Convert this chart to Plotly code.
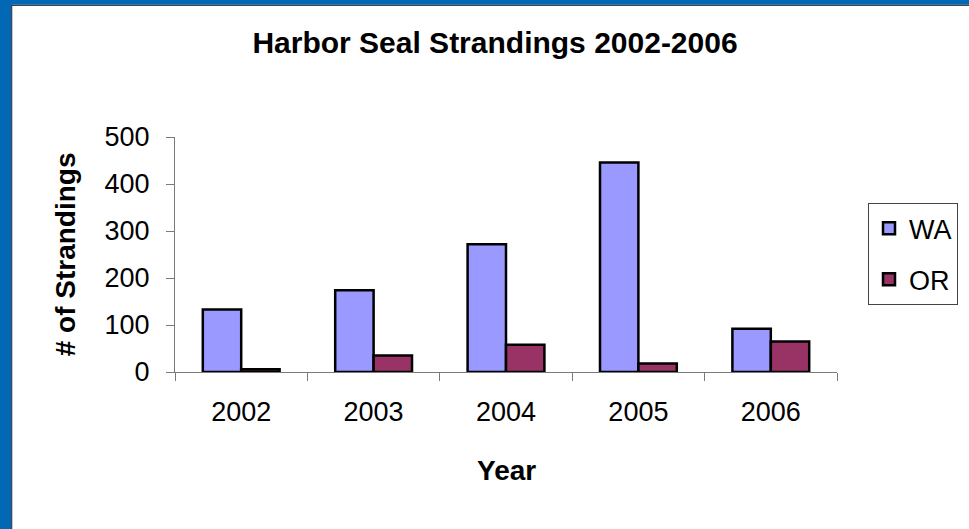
import plotly.graph_objects as go

years = ["2002", "2003", "2004", "2005", "2006"]
wa = [133, 174, 272, 446, 92]
or_vals = [6, 35, 58, 18, 65]

W, H = 969, 529
L, R, T = 175, 838, 137
B0 = 371.7  # pixel y of zero line
pw, ph = R - L, B0 - T

def px(x):
    return (x - L) / pw

def py(y):
    return (B0 - y) / ph

FONT = "Liberation Sans, Arial, sans-serif"

fig = go.Figure()
fig.add_trace(go.Bar(x=years, y=wa, name="WA", legendgroup="a",
                     marker=dict(color="#9999FF", line=dict(color="black", width=2.5))))
fig.add_trace(go.Bar(x=years, y=or_vals, name="OR", legendgroup="b",
                     marker=dict(color="#993366", line=dict(color="black", width=2.5))))

fig.update_layout(
    width=W, height=H,
    margin=dict(l=L, r=W - R, t=T, b=H - B0, pad=0),
    paper_bgcolor="white", plot_bgcolor="white",
    font=dict(family=FONT, size=27, color="black"),
    barmode="group", bargap=0.42, bargroupgap=0,
    title=dict(text="<b>Harbor Seal Strandings 2002-2006</b>",
               x=495 / W, xref="container", xanchor="center",
               y=1 - 42 / H, yref="container", yanchor="middle",
               font=dict(size=30, family=FONT, color="black")),
    showlegend=True,
    legend=dict(x=px(868), y=py(203), xanchor="left", yanchor="top",
                bordercolor="#444444", borderwidth=1, bgcolor="white",
                font=dict(size=27, family=FONT), tracegroupgap=13,
                traceorder="grouped", entrywidth=88, entrywidthmode="pixels"),
)
fig.update_xaxes(showline=True, linecolor="#7a7a7a", linewidth=1,
                 ticks="outside", tickson="boundaries", ticklen=8,
                 tickcolor="#7a7a7a", showgrid=False, zeroline=False,
                 tickfont=dict(size=27), ticklabelstandoff=16)
fig.update_yaxes(range=[0, 500], dtick=100, showline=True, linecolor="#7a7a7a",
                 linewidth=1, ticks="outside", ticklen=8, tickcolor="#7a7a7a",
                 showgrid=False, zeroline=False, tickfont=dict(size=27),
                 ticklabelstandoff=11)

fig.add_annotation(text="<b>Year</b>", x=px(507), y=py(470), xref="paper", yref="paper",
                   xanchor="center", yanchor="middle", showarrow=False,
                   font=dict(size=28, family=FONT))
fig.add_annotation(text="<b># of Strandings</b>", x=px(65), y=py(254), xref="paper", yref="paper",
                   xanchor="center", yanchor="middle", showarrow=False, textangle=-90,
                   font=dict(size=28, family=FONT))

# blue frame on left and top
blue = "#0068B4"
fig.add_shape(type="rect", xref="paper", yref="paper", x0=px(-5), x1=px(11),
              y0=py(H + 5), y1=py(-5), fillcolor=blue, line=dict(width=0))
fig.add_shape(type="rect", xref="paper", yref="paper", x0=px(-5), x1=px(W + 5),
              y0=py(5), y1=py(-5), fillcolor=blue, line=dict(width=0))
fig.add_shape(type="line", xref="paper", yref="paper", x0=px(11.5), x1=px(11.5),
              y0=py(H + 5), y1=py(5), line=dict(color="#1a1a2a", width=1))
fig.add_shape(type="line", xref="paper", yref="paper", x0=px(11.5), x1=px(W + 5),
              y0=py(5.5), y1=py(5.5), line=dict(color="#1a1a2a", width=1))

fig.write_html("out.html", config={"displayModeBar": False},
               post_script="document.body.style.margin='0';document.body.style.overflow='hidden';")
